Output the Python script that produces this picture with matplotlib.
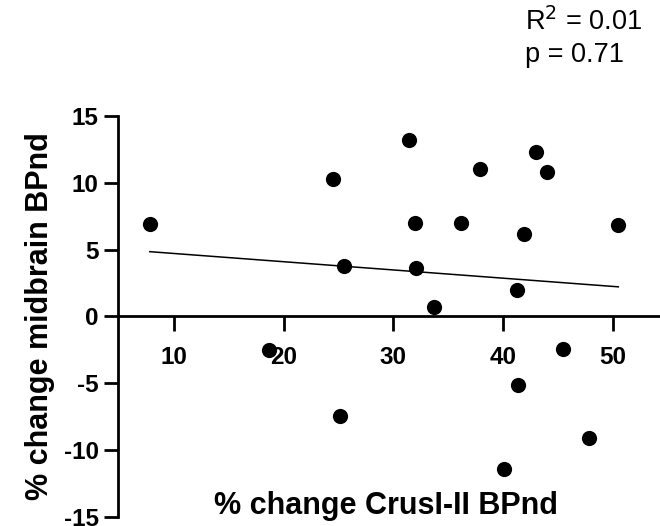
import numpy as np
import matplotlib
matplotlib.use("Agg")
import matplotlib.pyplot as plt

plt.rcParams.update({"font.family": ["Liberation Sans", "DejaVu Sans"],
                     "axes.unicode_minus": False})

# data
crus_change = [7.8, 18.7, 24.5, 31.4, 37.9, 43.0, 44.0, 32.0, 36.2, 41.9, 50.5,
               25.5, 32.1, 41.3, 33.7, 45.5, 41.4, 25.1, 47.8, 40.1]
midbrain_change = [6.9, -2.5, 10.3, 13.2, 11.05, 12.3, 10.8, 7.0, 7.0, 6.2, 6.85,
                   3.8, 3.65, 1.95, 0.7, -2.4, -5.15, -7.45, -9.1, -11.4]
fit_slope, fit_intercept = -0.0616, 5.33
stats_text = "R$^2$ = 0.01\np = 0.71"
x_ticks = [10, 20, 30, 40, 50]
y_ticks = [-15, -10, -5, 0, 5, 10, 15]

fig = plt.figure(figsize=(6.6, 5.26), dpi=100)
ax = fig.add_axes([0.1788, 0.0171, 1 - 0.1788, 0.7795 - 0.0171])

ax.scatter(crus_change, midbrain_change, s=120, color="black", zorder=3, linewidths=0)
fx = np.array([min(crus_change), max(crus_change)])
ax.plot(fx, fit_slope * fx + fit_intercept, color="black", lw=1.1)

ax.set_xlim(4.9, 54.3)
ax.set_ylim(-15, 15)
ax.spines["top"].set_visible(False)
ax.spines["right"].set_visible(False)
ax.spines["bottom"].set_position(("data", 0))
for s in ("left", "bottom"):
    ax.spines[s].set_linewidth(2.0)
ax.set_xticks(x_ticks)
ax.set_yticks(y_ticks)
ax.tick_params(axis="x", length=11, width=2.0, pad=10, labelsize=17.5)
ax.tick_params(axis="y", length=10, width=2.0, pad=4, labelsize=17.5)
for lab in ax.get_xticklabels() + ax.get_yticklabels():
    lab.set_fontweight("bold")

ax.set_ylabel("% change midbrain BPnd", fontsize=22, fontweight="bold", labelpad=6)
ax.text(0.494, -14.2, "% change CrusI-II BPnd", transform=ax.get_yaxis_transform(),
        ha="center", va="center", fontsize=22, fontweight="bold")

fig.text(525 / 660, 1 - 8 / 526, stats_text, ha="left", va="top", fontsize=19.5,
         linespacing=1.3)

fig.savefig("out.png", dpi=100)
